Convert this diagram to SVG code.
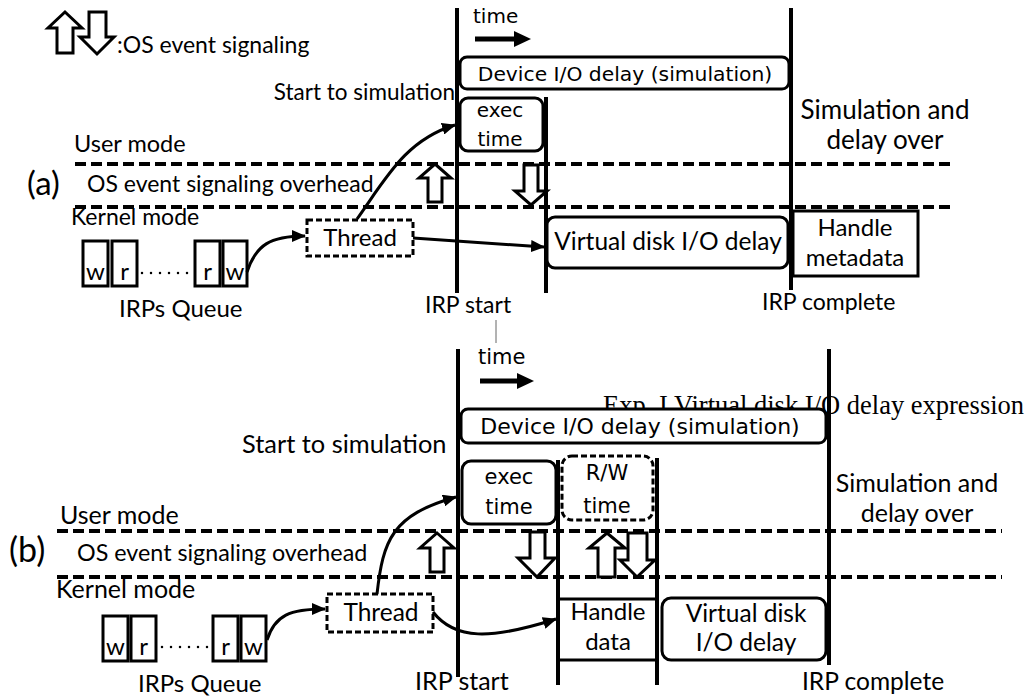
<svg xmlns="http://www.w3.org/2000/svg" width="1028" height="697" viewBox="0 0 1028 697">
<defs>
<marker id="ah" viewBox="0 0 14 12" refX="13" refY="6" markerWidth="14" markerHeight="12" markerUnits="userSpaceOnUse" orient="auto">
<path d="M0,0 L14,6 L0,12 z" fill="#000"/>
</marker>
</defs>
<style>
.c{font-family:"Lato","Liberation Sans",sans-serif;fill:#000}
.d{font-family:"DejaVu Sans",sans-serif;fill:#000}
.s{font-family:"Liberation Serif",serif;fill:#000}
.vl{stroke:#000;stroke-width:4;fill:none}
.dash{stroke:#000;stroke-width:4;stroke-dasharray:11 5;fill:none}
.box{stroke:#000;stroke-width:3;fill:#fff}
.dbox{stroke:#000;stroke-width:3;fill:#fff;stroke-dasharray:6 3}
.sig{stroke:#000;stroke-width:3;fill:#fff;stroke-linejoin:miter}
.con{stroke:#000;stroke-width:3;fill:none}
.dots{stroke:#000;stroke-width:2.5;stroke-linecap:round;stroke-dasharray:0 9;fill:none}
</style>
<rect width="1028" height="697" fill="#fff"/>

<!-- legend -->
<g id="legend">
<polygon class="sig" points="65,12 82,28 73,28 73,53 57,53 57,28 48,28"/>
<polygon class="sig" points="89,12 106,12 106,37 114,37 97,54 80,37 89,37"/>
<text class="c" x="117" y="53" font-size="23">:OS event signaling</text>
</g>

<!-- ============ (a) ============ -->
<g id="a-labels">
<text class="d" x="473" y="23" font-size="20">time</text>
<text class="c" x="455" y="100" font-size="22.5" text-anchor="end">Start to simulation</text>
<text class="c" x="74" y="152" font-size="23.5">User mode</text>
<text class="c" x="27" y="195" font-size="33">(a)</text>
<text class="c" x="87" y="192" font-size="23">OS event signaling overhead</text>
<text class="c" x="71" y="225" font-size="23">Kernel mode</text>
<text class="c" x="885" y="119" font-size="26" text-anchor="middle">Simulation and</text>
<text class="c" x="885" y="149" font-size="26" text-anchor="middle">delay over</text>
<text class="c" x="119" y="317" font-size="24">IRPs Queue</text>
<text class="c" x="425" y="313" font-size="23">IRP start</text>
<text class="c" x="762" y="310" font-size="23">IRP complete</text>
</g>
<g id="a-time-arrow">
<line x1="475" y1="39" x2="516" y2="39" stroke="#000" stroke-width="5"/>
<polygon points="514,31 531,39 514,47" fill="#000"/>
</g>
<g id="a-modes">
<line class="dash" x1="75" y1="164" x2="952" y2="164"/>
<line class="dash" x1="75" y1="207" x2="952" y2="207"/>
</g>
<g id="a-device">
<rect class="box" x="460" y="57" width="329" height="32" rx="7"/>
<text class="d" x="625" y="81" font-size="20.3" text-anchor="middle">Device I/O delay (simulation)</text>
</g>
<g id="a-exec">
<rect class="box" x="460" y="98" width="83" height="53" rx="8"/>
<text class="d" x="500" y="117" font-size="20" text-anchor="middle">exec</text>
<text class="d" x="500" y="146" font-size="20" text-anchor="middle">time</text>
</g>
<g id="a-vdisk">
<rect class="box" x="547" y="217" width="241" height="51" rx="8"/>
<text class="c" x="668" y="250" font-size="24.5" text-anchor="middle">Virtual disk I/O delay</text>
</g>
<g id="a-meta">
<rect class="box" x="793" y="211" width="125" height="65"/>
<text class="c" x="855" y="236" font-size="24" text-anchor="middle">Handle</text>
<text class="c" x="855" y="266" font-size="24" text-anchor="middle">metadata</text>
</g>
<g id="a-thread">
<rect class="dbox" x="307" y="220" width="106" height="36"/>
<text class="c" x="360" y="246" font-size="24" text-anchor="middle">Thread</text>
</g>
<g id="a-queue">
<rect class="box" x="83" y="241" width="25" height="45"/>
<rect class="box" x="112" y="241" width="25" height="45"/>
<rect class="box" x="195" y="241" width="25" height="45"/>
<rect class="box" x="223" y="241" width="24" height="45"/>
<text class="c" x="95.5" y="280" font-size="24" text-anchor="middle">w</text>
<text class="c" x="124.5" y="280" font-size="24" text-anchor="middle">r</text>
<text class="c" x="207.5" y="280" font-size="24" text-anchor="middle">r</text>
<text class="c" x="235" y="280" font-size="24" text-anchor="middle">w</text>
<line class="dots" x1="142" y1="273" x2="190" y2="273"/>
</g>
<g id="a-signals">
<polygon class="sig" points="435,164 451,178 442,178 442,202 428,202 428,178 419,178"/>
<polygon class="sig" points="524,165 538,165 538,191 547,191 531,205 515,191 524,191"/>
</g>
<g id="a-timelines">
<line class="vl" x1="457" y1="8" x2="457" y2="293"/>
<line class="vl" x1="546" y1="97" x2="546" y2="293"/>
<line class="vl" x1="791" y1="8" x2="791" y2="290"/>
</g>
<g id="a-connectors">
<path class="con" d="M247,272 C256,245 270,236 305,236" marker-end="url(#ah)"/>
<path class="con" d="M357,219 C385,180 405,140 455,125" marker-end="url(#ah)"/>
<path class="con" d="M413,238 L544,247" marker-end="url(#ah)"/>
</g>

<line x1="496" y1="320" x2="496" y2="343" stroke="#666" stroke-width="1"/>

<!-- ============ (b) ============ -->
<g id="b-labels">
<text class="d" x="478" y="364" font-size="21">time</text>
<text class="s" x="603" y="414" font-size="26.5">Exp. I Virtual disk I/O delay expression</text>
<text class="c" x="242" y="453" font-size="25.4">Start to simulation</text>
<text class="c" x="60" y="524" font-size="25">User mode</text>
<text class="c" x="9" y="562" font-size="34">(b)</text>
<text class="c" x="77" y="561" font-size="23.3">OS event signaling overhead</text>
<text class="c" x="56" y="598" font-size="25">Kernel mode</text>
<text class="c" x="917" y="492" font-size="25" text-anchor="middle">Simulation and</text>
<text class="c" x="917" y="522" font-size="25" text-anchor="middle">delay over</text>
<text class="c" x="138" y="692" font-size="24">IRPs Queue</text>
<text class="c" x="415" y="690" font-size="25">IRP start</text>
<text class="c" x="802" y="690" font-size="24.5">IRP complete</text>
</g>
<g id="b-time-arrow">
<line x1="480" y1="381" x2="519" y2="381" stroke="#000" stroke-width="5"/>
<polygon points="517,373 534,381 517,389" fill="#000"/>
</g>
<g id="b-modes">
<line class="dash" x1="57" y1="531" x2="1002" y2="531"/>
<line class="dash" x1="57" y1="577" x2="1002" y2="577"/>
</g>
<g id="b-device">
<rect class="box" x="461" y="409" width="365" height="34" rx="7"/>
<text class="d" x="640" y="434" font-size="22" text-anchor="middle">Device I/O delay (simulation)</text>
</g>
<g id="b-exec">
<rect class="box" x="462" y="461" width="94" height="63" rx="9"/>
<text class="d" x="509" y="484" font-size="21" text-anchor="middle">exec</text>
<text class="d" x="509" y="514" font-size="21" text-anchor="middle">time</text>
</g>
<g id="b-rw">
<rect class="dbox" x="562" y="456" width="91" height="64" rx="10"/>
<text class="d" x="607" y="480" font-size="21" text-anchor="middle">R/W</text>
<text class="d" x="607" y="513" font-size="21" text-anchor="middle">time</text>
</g>
<g id="b-handle">
<line x1="558" y1="599" x2="657" y2="599" stroke="#000" stroke-width="3"/>
<line x1="558" y1="660" x2="657" y2="660" stroke="#000" stroke-width="3"/>
<text class="c" x="608" y="620" font-size="24" text-anchor="middle">Handle</text>
<text class="c" x="608" y="650" font-size="24" text-anchor="middle">data</text>
</g>
<g id="b-vdisk">
<rect class="box" x="662" y="598" width="164" height="62" rx="9"/>
<text class="c" x="746" y="622" font-size="24.5" text-anchor="middle">Virtual disk</text>
<text class="c" x="746" y="651" font-size="24.5" text-anchor="middle">I/O delay</text>
</g>
<g id="b-thread">
<rect class="dbox" x="327" y="594" width="106" height="38"/>
<text class="c" x="381" y="621" font-size="24.5" text-anchor="middle">Thread</text>
</g>
<g id="b-queue">
<rect class="box" x="103" y="616" width="25" height="45"/>
<rect class="box" x="131" y="616" width="25" height="45"/>
<rect class="box" x="213" y="616" width="25" height="45"/>
<rect class="box" x="241" y="616" width="25" height="45"/>
<text class="c" x="115.5" y="655" font-size="24" text-anchor="middle">w</text>
<text class="c" x="143.5" y="655" font-size="24" text-anchor="middle">r</text>
<text class="c" x="225.5" y="655" font-size="24" text-anchor="middle">r</text>
<text class="c" x="253.5" y="655" font-size="24" text-anchor="middle">w</text>
<line class="dots" x1="162" y1="647" x2="208" y2="647"/>
</g>
<g id="b-signals">
<polygon class="sig" points="437,533 454,548 444,548 444,572 430,572 430,548 420,548"/>
<polygon class="sig" points="530,532 545,532 545,558 555,558 537,577 518,558 530,558"/>
<polygon class="sig" points="607,533 625,548 615,548 615,577 598,577 598,548 589,548"/>
<polygon class="sig" points="628,533 647,533 647,560 655,560 637,577 620,560 628,560"/>
</g>
<g id="b-timelines">
<line class="vl" x1="458" y1="349" x2="458" y2="677"/>
<line class="vl" x1="558" y1="460" x2="558" y2="685"/>
<line class="vl" x1="657" y1="458" x2="657" y2="685"/>
<line class="vl" x1="829" y1="349" x2="829" y2="665"/>
</g>
<g id="b-connectors">
<path class="con" d="M267,640 C275,615 290,609 325,609" marker-end="url(#ah)"/>
<path class="con" d="M377,594 C383,540 392,515 456,497" marker-end="url(#ah)"/>
<path class="con" d="M433,612 C455,640 490,640 556,619" marker-end="url(#ah)"/>
</g>
</svg>
